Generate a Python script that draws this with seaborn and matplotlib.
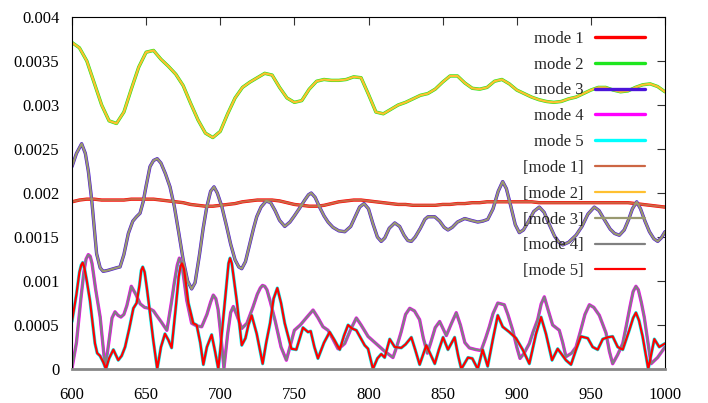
import matplotlib
matplotlib.use('Agg')
import matplotlib.pyplot as plt
import seaborn as sns
import numpy as np

# x grid for the two smooth curves (modes 1 and 2)
x_grid = np.arange(600, 1001, 5)

# all values in units of 1e-3
mode1 = [1.90, 1.92, 1.93, 1.93, 1.92, 1.92, 1.92, 1.92, 1.93, 1.93,
         1.93, 1.93, 1.92, 1.91, 1.90, 1.89, 1.87, 1.86, 1.85, 1.85,
         1.86, 1.87, 1.88, 1.90, 1.91, 1.92, 1.92, 1.92, 1.91, 1.89,
         1.87, 1.86, 1.85, 1.85, 1.86, 1.88, 1.90, 1.91, 1.92, 1.92,
         1.91, 1.90, 1.89, 1.88, 1.87, 1.87, 1.86, 1.86, 1.86, 1.86,
         1.87, 1.87, 1.88, 1.88, 1.89, 1.89, 1.90, 1.90, 1.90, 1.90,
         1.90, 1.90, 1.90, 1.89, 1.89, 1.89, 1.89, 1.89, 1.89, 1.89,
         1.89, 1.89, 1.89, 1.89, 1.89, 1.89, 1.88, 1.87, 1.86, 1.85,
         1.84]

mode2 = [3.71, 3.65, 3.50, 3.25, 3.00, 2.82, 2.79, 2.92, 3.18, 3.43,
         3.60, 3.62, 3.52, 3.44, 3.35, 3.22, 3.02, 2.83, 2.68, 2.63,
         2.70, 2.90, 3.08, 3.20, 3.26, 3.31, 3.36, 3.34, 3.20, 3.08,
         3.03, 3.05, 3.18, 3.27, 3.29, 3.28, 3.28, 3.29, 3.32, 3.31,
         3.12, 2.92, 2.90, 2.95, 3.00, 3.03, 3.07, 3.11, 3.13, 3.18,
         3.26, 3.33, 3.33, 3.25, 3.19, 3.18, 3.20, 3.27, 3.29, 3.24,
         3.17, 3.13, 3.09, 3.06, 3.04, 3.03, 3.04, 3.07, 3.09, 3.13,
         3.17, 3.20, 3.20, 3.17, 3.15, 3.16, 3.20, 3.23, 3.24, 3.21,
         3.15]

mode3_x = [600, 603, 606.5, 609, 611, 613.3, 616.6, 619, 621, 624,
           627.9, 630, 632.4, 635, 638, 641, 643.5, 645.9, 648, 650,
           652.6, 655, 657.5, 660, 663, 666.1, 669, 672, 675, 678,
           680.7, 683, 686, 688.5, 690.9, 693.5, 695.8, 698, 701, 704.3,
           707, 710, 712.5, 714.5, 717, 720, 722.5, 724.6, 727.5, 731,
           734, 737, 740, 743.5, 747, 750, 753.6, 757, 759.5, 761.4,
           764, 767, 770, 772.7, 776, 780, 784, 788, 791, 794,
           797, 800, 803, 806, 808.6, 811, 814, 817.7, 821, 824,
           826.5, 828.9, 831.5, 835, 838, 840.1, 844.7, 848, 851, 853.6,
           856.5, 860, 864.9, 869, 873.7, 877, 880.4, 884, 887.5, 890.5,
           893, 896, 899, 901.7, 904.5, 908, 911.5, 915.2, 918.5, 922,
           925.5, 928.5, 931, 935, 940, 944, 948, 952.3, 955.5, 959,
           963, 966, 969.2, 972.5, 975.5, 978, 980.9, 983.5, 986.5, 989.5,
           992.5, 995.1, 997.5, 1000]
mode3 = [2.30, 2.45, 2.56, 2.45, 2.25, 1.92, 1.31, 1.15, 1.11, 1.12,
         1.14, 1.15, 1.16, 1.30, 1.54, 1.68, 1.73, 1.77, 1.90, 2.08,
         2.30, 2.37, 2.39, 2.34, 2.22, 2.07, 1.85, 1.55, 1.24, 1.00,
         0.91, 0.98, 1.30, 1.60, 1.84, 2.02, 2.07, 2.00, 1.85, 1.62,
         1.42, 1.24, 1.16, 1.14, 1.22, 1.43, 1.60, 1.73, 1.84, 1.91,
         1.89, 1.80, 1.69, 1.62, 1.67, 1.74, 1.83, 1.92, 1.98, 2.00,
         1.95, 1.84, 1.74, 1.67, 1.61, 1.57, 1.56, 1.62, 1.73, 1.84,
         1.88, 1.82, 1.65, 1.50, 1.45, 1.49, 1.60, 1.66, 1.62, 1.52,
         1.46, 1.45, 1.50, 1.60, 1.70, 1.73, 1.73, 1.68, 1.61, 1.58,
         1.61, 1.67, 1.71, 1.69, 1.67, 1.68, 1.70, 1.82, 2.02, 2.13,
         2.05, 1.85, 1.64, 1.55, 1.58, 1.68, 1.79, 1.84, 1.78, 1.64,
         1.51, 1.44, 1.41, 1.44, 1.52, 1.62, 1.76, 1.84, 1.80, 1.70,
         1.59, 1.54, 1.52, 1.58, 1.70, 1.82, 1.90, 1.82, 1.68, 1.56,
         1.48, 1.45, 1.49, 1.56]

mode4_x = [600, 603, 606, 608, 609.5, 611, 612.3, 613.5, 616, 619,
           621, 622.3, 624, 625.6, 627, 629, 631, 633, 635, 637,
           640, 643, 646, 649, 652, 655, 657, 660, 664, 667,
           669, 671, 672.4, 674, 675.5, 677.4, 680.7, 684, 687.5, 691,
           693.5, 695.3, 697, 698.5, 700, 702.5, 705, 707, 708.8, 711,
           714.5, 718, 722, 725, 727, 728.5, 730, 731.5, 734, 737,
           741, 744.6, 747, 750, 754, 758, 762.6, 766, 769.3, 772.7,
           776, 779.4, 782, 784, 788, 791.8, 795, 799.7, 803, 806.4,
           811, 816.5, 819, 822, 825, 827.8, 831, 834.5, 837, 839.7,
           842, 845, 848, 850.5, 852.5, 856, 859.2, 862, 865, 868,
           872.5, 876, 879, 881.5, 884, 887.2, 891.6, 894, 897.3, 900,
           902.2, 905, 908.5, 911, 914.1, 916.5, 918.6, 921, 924.2, 928.7,
           931, 933.2, 937, 940, 943, 946, 949, 952, 955.7, 960.2,
           962.5, 964.7, 968, 971.5, 974, 976.4, 978.5, 980.4, 982, 984,
           986, 988.5, 990.6, 995, 1000]
mode4 = [0.01, 0.30, 0.80, 1.10, 1.25, 1.30, 1.28, 1.20, 0.90, 0.59,
         0.25, 0.03, 0.20, 0.40, 0.58, 0.65, 0.61, 0.59, 0.62, 0.72,
         0.94, 0.85, 0.74, 0.70, 0.69, 0.66, 0.61, 0.54, 0.44, 0.75,
         0.98, 1.18, 1.26, 1.20, 1.02, 0.78, 0.52, 0.49, 0.48, 0.62,
         0.76, 0.84, 0.80, 0.68, 0.45, 0.01, 0.40, 0.64, 0.71, 0.62,
         0.46, 0.52, 0.70, 0.85, 0.92, 0.95, 0.94, 0.90, 0.75, 0.55,
         0.25, 0.10, 0.25, 0.44, 0.50, 0.58, 0.67, 0.58, 0.48, 0.44,
         0.34, 0.23, 0.26, 0.29, 0.45, 0.58, 0.50, 0.37, 0.32, 0.27,
         0.20, 0.13, 0.25, 0.42, 0.62, 0.69, 0.66, 0.56, 0.35, 0.18,
         0.30, 0.47, 0.54, 0.45, 0.38, 0.52, 0.64, 0.50, 0.30, 0.24,
         0.22, 0.21, 0.35, 0.48, 0.63, 0.75, 0.73, 0.62, 0.44, 0.25,
         0.12, 0.18, 0.29, 0.42, 0.56, 0.74, 0.82, 0.68, 0.50, 0.44,
         0.30, 0.14, 0.18, 0.25, 0.43, 0.62, 0.73, 0.70, 0.61, 0.41,
         0.20, 0.06, 0.16, 0.29, 0.50, 0.71, 0.88, 0.94, 0.90, 0.76,
         0.59, 0.30, 0.06, 0.13, 0.25]

mode5_x = [600, 603, 605, 606.2, 607.2, 608.5, 610, 612.1, 614, 615.5,
           617, 618.9, 621, 622.9, 625, 627.9, 631.2, 633.5, 635.8, 638.5,
           641.4, 643.6, 645.5, 646.7, 647.7, 649, 650.5, 652, 654.8, 657.5,
           660, 662.7, 665, 667.2, 670, 672, 673.2, 674.2, 675.5, 676.8,
           678.5, 681.8, 684.1, 686.5, 688.6, 691, 694.2, 696.5, 698.7, 700.5,
           702.1, 704.5, 705.6, 706.6, 707.8, 709, 711.1, 714.5, 717, 719,
           721.2, 724.6, 728.6, 731, 733.6, 736, 738.5, 741, 743.5, 748,
           751.3, 755.8, 759.2, 761, 763.5, 765.9, 770, 773.8, 777, 780.6,
           783.5, 786.2, 789, 791.8, 797.4, 799.7, 803, 806, 808.6, 810.9,
           814.3, 817.7, 822.1, 825, 828.9, 831.5, 834.5, 839, 844.7, 847.5,
           850.3, 853.6, 858.1, 860.5, 862.6, 867.1, 870, 873.7, 877, 880.4,
           883.8, 887.2, 890.5, 895, 899.5, 904, 908.5, 913, 916.4, 919.7,
           923.8, 927.6, 933.2, 936.6, 940, 943.3, 947.9, 951.2, 954.6, 958,
           961.3, 964.7, 968.1, 971.5, 975.9, 978.5, 980.4, 982.5, 984.9, 988.7,
           992.8, 996.1, 1000]
mode5 = [0.54, 0.85, 1.10, 1.18, 1.21, 1.14, 1.00, 0.78, 0.50, 0.29,
         0.18, 0.15, 0.08, 0.00, 0.12, 0.22, 0.10, 0.15, 0.25, 0.45,
         0.69, 0.75, 0.95, 1.12, 1.16, 1.10, 0.92, 0.72, 0.33, 0.00,
         0.25, 0.40, 0.33, 0.24, 0.70, 1.05, 1.17, 1.20, 1.14, 0.98,
         0.75, 0.52, 0.50, 0.30, 0.05, 0.25, 0.39, 0.20, 0.00, 0.30,
         0.59, 1.00, 1.20, 1.26, 1.20, 1.05, 0.78, 0.27, 0.35, 0.50,
         0.61, 0.40, 0.06, 0.30, 0.52, 0.80, 0.92, 0.75, 0.52, 0.23,
         0.22, 0.47, 0.42, 0.43, 0.25, 0.12, 0.30, 0.42, 0.33, 0.22,
         0.38, 0.50, 0.46, 0.44, 0.27, 0.23, 0.00, 0.12, 0.17, 0.13,
         0.34, 0.25, 0.24, 0.28, 0.36, 0.22, 0.05, 0.27, 0.06, 0.22,
         0.36, 0.22, 0.36, 0.15, 0.00, 0.13, 0.12, 0.00, 0.22, 0.03,
         0.33, 0.61, 0.48, 0.42, 0.35, 0.22, 0.06, 0.40, 0.59, 0.40,
         0.10, 0.23, 0.10, 0.05, 0.22, 0.37, 0.35, 0.25, 0.22, 0.34,
         0.36, 0.37, 0.25, 0.22, 0.44, 0.58, 0.64, 0.55, 0.37, 0.00,
         0.34, 0.25, 0.29]

x_ticks = [600, 650, 700, 750, 800, 850, 900, 950, 1000]
y_ticks = [0, 0.0005, 0.001, 0.0015, 0.002, 0.0025, 0.003, 0.0035, 0.004]

labels = ["mode 1", "mode 2", "mode 3", "mode 4", "mode 5",
          "[mode 1]", "[mode 2]", "[mode 3]", "[mode 4]", "[mode 5]"]
colors = ["#ff0000", "#1ee61e", "#4b14d9", "#ff00ff", "#00ffff",
          "#cc6644", "#ffc030", "#999970", "#808080", "#ff0000"]

xs = [x_grid, x_grid, mode3_x, mode4_x, mode5_x]
ys = [np.array(v) * 1e-3 for v in (mode1, mode2, mode3, mode4, mode5)]

sns.set_style("white")
plt.rcParams['font.family'] = ['Liberation Serif', 'DejaVu Serif']

fig = plt.figure(figsize=(7.08, 4.03), dpi=100)
ax = fig.add_axes([72 / 708, 34 / 403, 593 / 708, 352 / 403])

# plain modes first, bracketed modes drawn on top, thinner
for i in range(10):
    k = i % 5
    lw = 2.4 if i < 5 else 1.6
    sns.lineplot(x=xs[k], y=ys[k], ax=ax, color=colors[i], lw=lw,
                 label=labels[i], estimator=None, sort=False,
                 solid_joinstyle='round')

ax.set_xlim(600, 1000)
ax.set_ylim(0, 0.004)
ax.set_xticks(x_ticks)
ax.set_yticks(y_ticks)
ax.set_yticklabels(["%g" % t for t in y_ticks])
ax.set_xlabel("")
ax.set_ylabel("")
ax.tick_params(direction='in', length=6, width=0.8, color='#333333',
               top=True, right=True, labelsize=12, labelcolor='black')
ax.tick_params(axis='y', pad=9)
ax.tick_params(axis='x', pad=13)
for side in ['left', 'right', 'top']:
    ax.spines[side].set_color('black')
    ax.spines[side].set_linewidth(0.8)
ax.spines['bottom'].set_color('#888888')
ax.spines['bottom'].set_linewidth(2)

ax.legend(loc='upper right', bbox_to_anchor=(0.966, 0.961), frameon=False,
          markerfirst=False, handlelength=3.0, handletextpad=0.7,
          labelspacing=0.59, borderpad=0, borderaxespad=0, fontsize=12)

fig.savefig("out.png", dpi=100)
